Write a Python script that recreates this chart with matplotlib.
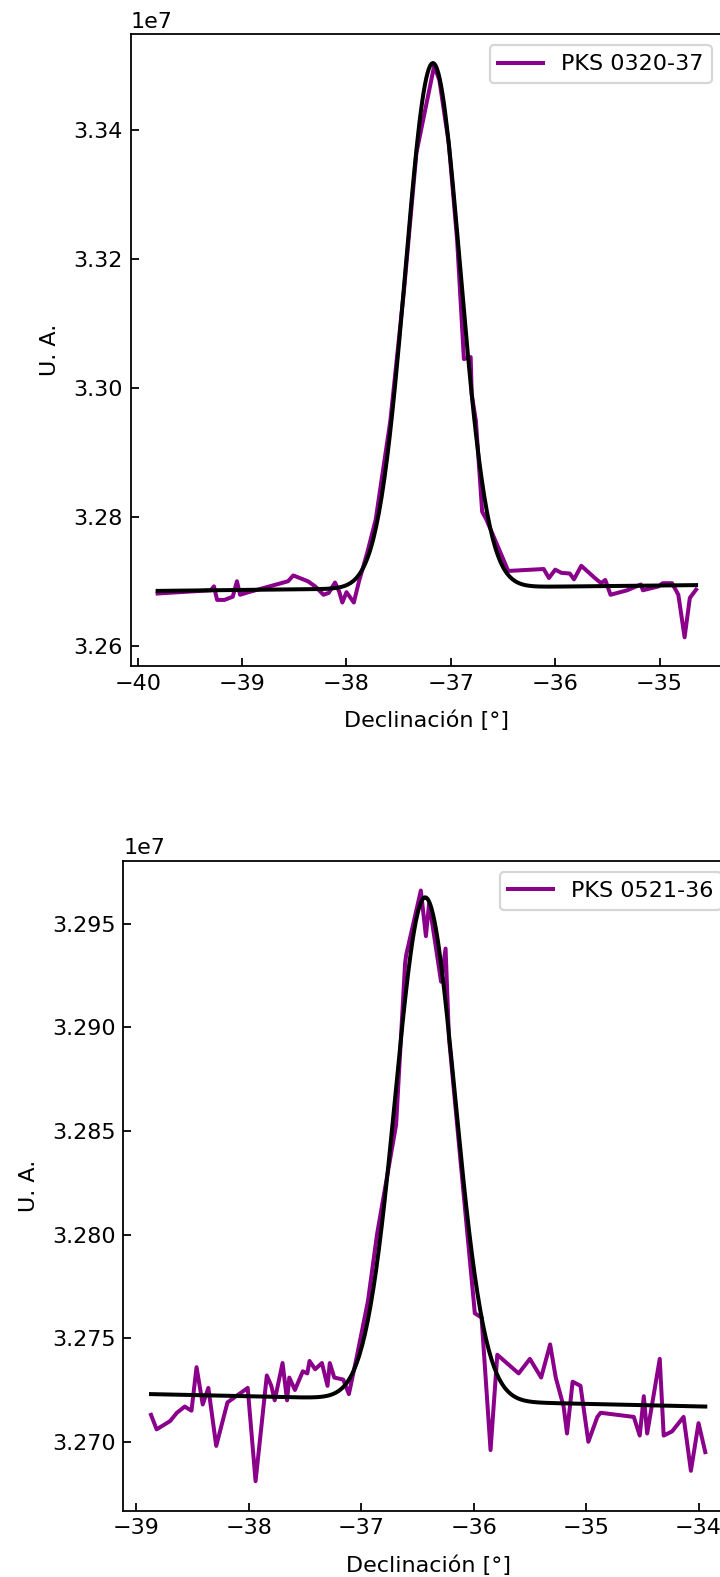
import numpy as np
import matplotlib.pyplot as plt

# PKS 0320-37 scan (declination in deg, signal in 1e7 U.A.)
dec_0320 = [-39.81, -39.30, -39.27, -39.24, -39.17, -39.09, -39.05, -39.02, -38.94,
            -38.56, -38.51, -38.37, -38.30, -38.22, -38.17, -38.11, -38.07, -38.04,
            -38.00, -37.93, -37.88, -37.80, -37.72, -37.58, -37.45, -37.33, -37.16,
            -37.11, -37.02, -36.94, -36.875, -36.81, -36.80, -36.76, -36.70, -36.66,
            -36.45, -36.11, -36.06, -36.00, -35.94, -35.86, -35.82, -35.75, -35.62,
            -35.56, -35.52, -35.47, -35.31, -35.18, -35.16, -35.01, -34.97, -34.88,
            -34.82, -34.76, -34.71, -34.65]
sig_0320 = [3.2681, 3.2686, 3.2692, 3.2671, 3.2671, 3.2676, 3.2700, 3.2679, 3.2683,
            3.2700, 3.2709, 3.2700, 3.2692, 3.2679, 3.2682, 3.2698, 3.2684, 3.2667,
            3.2683, 3.2667, 3.2700, 3.2745, 3.2796, 3.2949, 3.3150, 3.3365, 3.3500,
            3.3478, 3.3380, 3.3230, 3.3045, 3.3048, 3.2990, 3.2949, 3.2808, 3.2796,
            3.2716, 3.2719, 3.2705, 3.2718, 3.2713, 3.2712, 3.2703, 3.2724, 3.2705,
            3.2697, 3.2702, 3.2679, 3.2686, 3.2695, 3.2686, 3.2692, 3.2697, 3.2697,
            3.2679, 3.2613, 3.2674, 3.2687]

# PKS 0521-36 scan
dec_0521 = [-38.87, -38.82, -38.70, -38.64, -38.57, -38.51, -38.465, -38.41, -38.36,
            -38.29, -38.19, -38.01, -37.94, -37.84, -37.80, -37.77, -37.70, -37.66,
            -37.64, -37.59, -37.52, -37.48, -37.46, -37.41, -37.35, -37.30, -37.28,
            -37.24, -37.16, -37.11, -37.04, -36.94, -36.86, -36.69, -36.61, -36.60,
            -36.47, -36.425, -36.396, -36.29, -36.25, -36.22, -36.00, -35.99, -35.93,
            -35.85, -35.79, -35.60, -35.50, -35.40, -35.32, -35.27, -35.20, -35.17,
            -35.12, -35.05, -34.98, -34.90, -34.871, -34.576, -34.523, -34.487, -34.457,
            -34.345, -34.31, -34.236, -34.133, -34.068, -34.00, -33.94]
sig_0521 = [3.2713, 3.2706, 3.2710, 3.2714, 3.2717, 3.2715, 3.2736, 3.2718, 3.2726,
            3.2698, 3.2719, 3.2726, 3.2681, 3.2732, 3.2727, 3.2720, 3.2738, 3.2720,
            3.2731, 3.2725, 3.2734, 3.2733, 3.2739, 3.2735, 3.2738, 3.2727, 3.2738,
            3.2731, 3.2730, 3.2723, 3.2741, 3.2768, 3.2800, 3.2853, 3.2931, 3.2935,
            3.2966, 3.2944, 3.2960, 3.2922, 3.2938, 3.2895, 3.2768, 3.2762, 3.2760,
            3.2696, 3.2742, 3.2733, 3.2740, 3.2731, 3.2747, 3.2731, 3.2717, 3.2704,
            3.2729, 3.2727, 3.2700, 3.2712, 3.2714, 3.2712, 3.2703, 3.2722, 3.2704,
            3.2740, 3.2703, 3.2705, 3.2712, 3.2686, 3.2709, 3.2695]

# gaussian + linear baseline fit parameters: amp, center, sigma, slope, intercept
fit_0320 = [0.0815, -37.172, 0.263, 0.000174, 3.27543]
fit_0521 = [0.02427, -36.431, 0.265, -0.0001217, 3.26757]


def gauss_lin(x, a, mu, s, m, c):
    return a * np.exp(-(x - mu)**2 / (2 * s**2)) + m * x + c


W, H, DPI = 720, 1577, 160
fig = plt.figure(figsize=(W / DPI, H / DPI), dpi=DPI)

# axes boxes in pixels: left, right, top, bottom
boxes = [(130.7, 723, 34.3, 666), (123.3, 733, 861, 1510.7)]
panels = [(dec_0320, sig_0320, fit_0320, "PKS 0320-37"),
          (dec_0521, sig_0521, fit_0521, "PKS 0521-36")]

for (l, r, t, b), (x, y, p, name) in zip(boxes, panels):
    ax = fig.add_axes([l / W, 1 - b / H, (r - l) / W, (b - t) / H])
    x = np.array(x)
    ax.plot(x, np.array(y) * 1e7, color='#8b008b', lw=1.8, label=name)
    xf = np.linspace(x.min(), x.max(), 400)
    ax.plot(xf, gauss_lin(xf, *p) * 1e7, color='black', lw=1.8)
    ax.tick_params(direction='in')
    ax.set_xlabel("Declinación [°]", labelpad=7.5)
    ax.set_ylabel("U. A.", labelpad=6)
    ax.legend(loc='upper right')

fig.savefig("out.png", dpi=DPI)
